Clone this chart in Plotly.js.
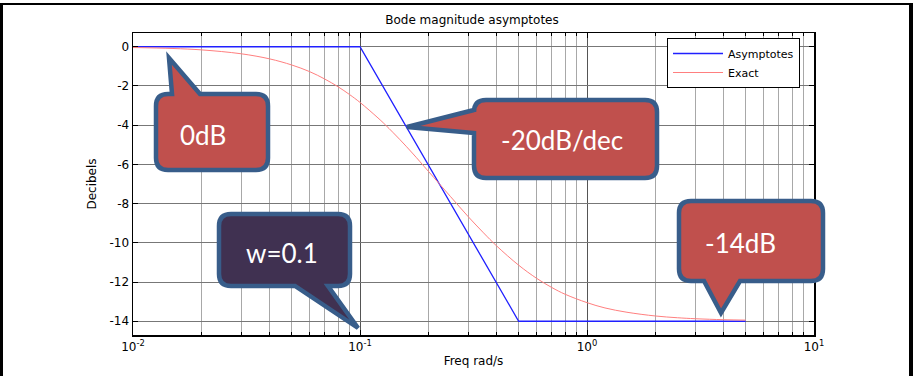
<!DOCTYPE html>
<html>
<head>
<meta charset="utf-8">
<script src="https://cdn.plot.ly/plotly-3.0.1.min.js"></script>
<style>
  html, body { margin: 0; padding: 0; background: #ffffff; }
  #wrap { position: relative; width: 914px; height: 376px; overflow: hidden; }
  #chart { width: 914px; height: 376px; }
  #frame { position: absolute; left: 0px; top: 3px; width: 913px; height: 420px; box-sizing: border-box;
           border-left: 3px solid #000; border-top: 2px solid #000; border-right: 4px solid #000; pointer-events: none; }
</style>
</head>
<body>
<div id="wrap">
  <div id="chart"></div>
  <div id="frame"></div>
</div>
<script>
// ---- data ----
const asymFreq = [0.01, 0.1, 0.5, 5];
const asymDb   = [0, 0, -14, -14];

const exactFreq = [0.01, 0.015, 0.02, 0.03, 0.04, 0.05, 0.06, 0.07, 0.08, 0.09, 0.1, 0.12, 0.13, 0.15, 0.17, 0.2, 0.25, 0.3, 0.35, 0.4, 0.5, 0.6, 0.7, 0.8, 1, 1.2, 1.5, 2, 2.5, 3, 4, 5];
const exactDb   = [-0.04, -0.09, -0.16, -0.36, -0.62, -0.93, -1.27, -1.65, -2.04, -2.44, -2.84, -3.63, -4.01, -4.74, -5.42, -6.35, -7.63, -8.67, -9.49, -10.16, -11.14, -11.81, -12.28, -12.62, -13.05, -13.32, -13.54, -13.73, -13.82, -13.87, -13.92, -13.94];

const xTickVals = [0.01, 0.1, 1, 10];
const xTickText = ['10<sup>-2</sup>', '10<sup>-1</sup>', '10<sup>0</sup>', '10<sup>1</sup>'];
const yTickVals = [0, -2, -4, -6, -8, -10, -12, -14];
const yTickText = ['0', '-2', '-4', '-6', '-8', '-10', '-12', '-14'];

const seriesNames = ['Asymptotes', 'Exact'];
const calloutTexts = ['0dB', '-20dB/dec', 'w=0.1', '-14dB'];

// minor grid positions (2..9 within each decade)
const minorVals = [];
[0.01, 0.1, 1].forEach(function (d) { for (let k = 2; k <= 9; k++) minorVals.push(+(k * d).toPrecision(3)); });

// ---- pixel -> paper helpers for the callout bubbles ----
const L = 133, R = 814, T = 33, B = 335;
function X(px) { return ((px - L) / (R - L)).toFixed(5); }
function Y(py) { return ((B - py) / (B - T)).toFixed(5); }
function P(x, y) { return X(x) + ',' + Y(y); }

function bubble(x0, y0, x1, y1, r, side, ta, tb, tip) {
  let s = 'M' + P(x0 + r, y0);
  if (side === 'top') s += ' L' + P(ta, y0) + ' L' + P(tip[0], tip[1]) + ' L' + P(tb, y0);
  s += ' L' + P(x1 - r, y0) + ' Q' + P(x1, y0) + ' ' + P(x1, y0 + r);
  s += ' L' + P(x1, y1 - r) + ' Q' + P(x1, y1) + ' ' + P(x1 - r, y1);
  if (side === 'bottom') s += ' L' + P(tb, y1) + ' L' + P(tip[0], tip[1]) + ' L' + P(ta, y1);
  s += ' L' + P(x0 + r, y1) + ' Q' + P(x0, y1) + ' ' + P(x0, y1 - r);
  if (side === 'left') s += ' L' + P(x0, tb) + ' L' + P(tip[0], tip[1]) + ' L' + P(x0, ta);
  s += ' L' + P(x0, y0 + r) + ' Q' + P(x0, y0) + ' ' + P(x0 + r, y0) + ' Z';
  return s;
}

const edge = '#385D8A';
const redFill = '#C0504D';
const darkFill = '#403151';

const shapes = [
  { path: bubble(156, 94, 268, 170, 12, 'top', 172, 200, [169, 58]), fill: redFill },
  { path: bubble(474, 100, 657, 178, 12, 'left', 110, 133, [407, 127]), fill: redFill },
  { path: bubble(219, 214, 350, 286, 12, 'bottom', 295, 328, [358, 328]), fill: darkFill },
  { path: bubble(679, 201, 823, 281, 12, 'bottom', 704, 740, [721, 313]), fill: redFill }
].map(function (b) {
  return { type: 'path', xref: 'paper', yref: 'paper', path: b.path, fillcolor: b.fill,
           line: { color: edge, width: 4.5 }, layer: 'above' };
});

const calloutPos = [[203, 135], [562, 140], [282, 253], [741, 243]];
const calloutFont = { family: 'Lato, "Open Sans", sans-serif', size: 26, color: '#ffffff' };
const annotations = calloutTexts.map(function (t, i) {
  return { text: t, xref: 'paper', yref: 'paper', x: +X(calloutPos[i][0]), y: +Y(calloutPos[i][1]),
           xanchor: 'center', yanchor: 'middle', showarrow: false, font: calloutFont };
});

const traces = [
  { x: asymFreq, y: asymDb, name: seriesNames[0], type: 'scatter', mode: 'lines',
    line: { color: '#2020ff', width: 1.3 } },
  { x: exactFreq, y: exactDb, name: seriesNames[1], type: 'scatter', mode: 'lines',
    line: { color: '#ff7f7f', width: 1, shape: 'spline' } }
];

const tickFont = { family: '"DejaVu Sans", sans-serif', size: 12, color: '#000' };

const layout = {
  width: 914, height: 376,
  margin: { l: L, r: 914 - R, t: T, b: 376 - B, pad: 0 },
  paper_bgcolor: '#ffffff', plot_bgcolor: '#ffffff',
  title: { text: 'Bode magnitude asymptotes', font: { family: '"DejaVu Sans", sans-serif', size: 12, color: '#000' },
           xref: 'container', yref: 'container', x: 472 / 914, y: 1 - 20 / 376, xanchor: 'center', yanchor: 'middle' },
  showlegend: true,
  legend: { x: (667 - L) / (R - L), y: (B - 38) / (B - T), xanchor: 'left', yanchor: 'top',
            bgcolor: '#ffffff', bordercolor: '#000', borderwidth: 1,
            font: { family: '"DejaVu Sans", sans-serif', size: 11, color: '#000' },
            tracegroupgap: 0, itemwidth: 50 },
  xaxis: {
    type: 'log', range: [-2, 1], autorange: false,
    tickmode: 'array', tickvals: xTickVals, ticktext: xTickText,
    ticks: 'inside', ticklen: 5, tickcolor: '#000', tickfont: tickFont,
    showline: true, linecolor: '#000', linewidth: 1.5, mirror: 'ticks',
    showgrid: true, gridcolor: '#555', gridwidth: 1,
    minor: { tickmode: 'array', tickvals: minorVals, ticks: 'inside', ticklen: 3, tickcolor: '#000',
             showgrid: true, gridcolor: '#a8a8a8', gridwidth: 1 },
    zeroline: false,
    title: { text: 'Freq rad/s', font: { family: '"DejaVu Sans", sans-serif', size: 12, color: '#000' }, standoff: 3 }
  },
  yaxis: {
    range: [-14.7, 0.7], autorange: false,
    tickmode: 'array', tickvals: yTickVals, ticktext: yTickText,
    ticks: 'inside', ticklen: 5, tickcolor: '#000', tickfont: tickFont,
    showline: true, linecolor: '#000', linewidth: 1.5, mirror: 'ticks',
    showgrid: true, gridcolor: '#777', gridwidth: 1,
    zeroline: false,
    title: { text: 'Decibels', font: { family: '"DejaVu Sans", sans-serif', size: 12, color: '#000' }, standoff: 10 }
  },
  shapes: shapes,
  annotations: annotations
};

Plotly.newPlot('chart', traces, layout, { staticPlot: true, displayModeBar: false });
</script>
</body>
</html>
